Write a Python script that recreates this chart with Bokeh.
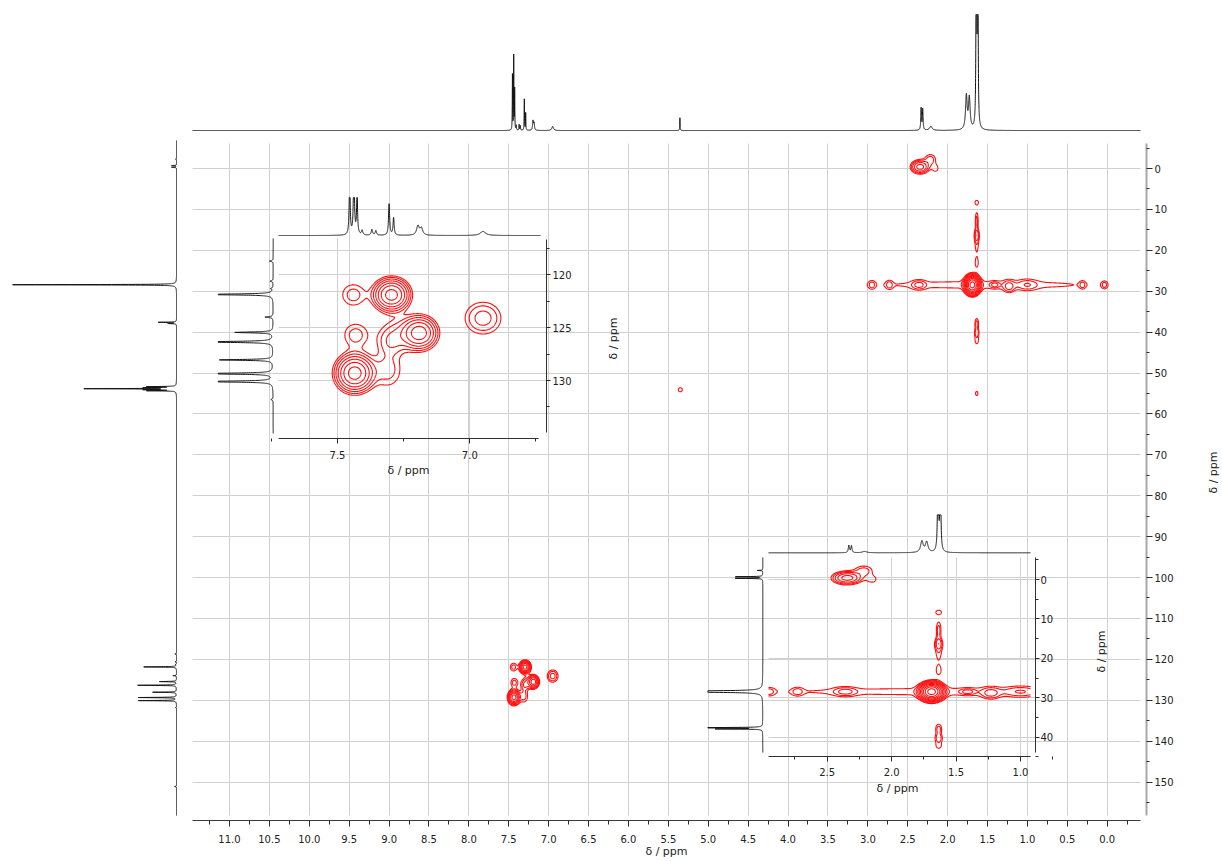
import numpy as np
from math import pi
from bokeh.plotting import figure
from bokeh.models import Range1d, LinearAxis, FixedTicker, PrintfTickFormatter, Grid, Label
from bokeh.embed import file_html
from bokeh.resources import INLINE

# ------------------------------------------------------------------ data
# 1H projection: peak position (ppm), height (% of full scale), half width (ppm)
h1_ppm = [7.454, 7.438, 7.426, 7.407, 7.370, 7.355, 7.305, 7.288, 7.196, 7.183, 6.950,
          5.355, 2.332, 2.312, 2.210, 1.765, 1.728, 1.640, 1.622]
h1_height = [48, 64, 35, 4, 5, 4, 27, 15, 8, 6, 3.5,
             11, 19, 18, 3.5, 29, 27, 260, 240]
h1_hwhm = [0.0022, 0.0022, 0.0022, 0.003, 0.003, 0.003, 0.0025, 0.0025, 0.006, 0.006, 0.012,
           0.0025, 0.005, 0.005, 0.02, 0.012, 0.012, 0.004, 0.004]

# 13C projection: peak position (ppm), height (% of full scale)
c13_ppm = [-2.3, -0.7, -0.3, 28.42, 37.6, 37.9, 53.34, 53.59, 53.84, 54.09, 54.34,
           118.7, 120.6, 121.3, 121.86, 124.0, 125.45, 126.35, 128.05, 129.35, 130.1, 131.8, 151.1]
c13_height = [0.6, 3.0, 3.0, 100, 11, 5, 17, 17.5, 54.5, 17.5, 17,
              1.0, 0.8, 0.6, 20, 2.2, 10.3, 23.6, 14.5, 23, 23, 0.6, 1.2]

# HSQC cross peaks: 1H ppm, 13C ppm, outer contour width (1H ppm), height (13C ppm), contour rings
hsqc_h = [7.435, 7.296, 7.189, 6.950, 7.440, 7.432, 7.300, 7.265, 7.310,
          2.345, 2.216, 2.150, 1.635, 1.635, 1.635, 1.635, 1.635,
          1.690, 1.540, 2.360, 1.410, 1.230, 1.000, 2.950, 2.730,
          1.635, 1.635, 1.635, 1.635, 5.350, 0.310, 0.035]
hsqc_c = [129.3, 121.9, 125.5, 124.1, 121.9, 125.7, 126.4, 125.6, 129.0,
          -0.4, -2.3, 0.0, 8.3, 12.8, 16.3, 18.8, 23.1,
          28.45, 28.45, 28.45, 28.45, 28.9, 28.45, 28.45, 28.45,
          37.9, 40.2, 42.2, 55.0, 54.1, 28.45, 28.45]
hsqc_wh = [0.17, 0.16, 0.15, 0.135, 0.08, 0.08, 0.04, 0.12, 0.09,
           0.25, 0.12, 0.05, 0.04, 0.035, 0.06, 0.03, 0.035,
           0.24, 2.24, 0.12, 0.08, 0.10, 0.10, 0.035, 0.035,
           0.045, 0.05, 0.035, 0.03, 0.05, 0.03, 0.03]
hsqc_wc = [4.2, 3.6, 3.5, 3.0, 1.9, 2.0, 1.0, 2.4, 2.8,
           3.6, 2.2, 1.2, 0.9, 4.0, 3.0, 2.0, 2.0,
           6.0, 1.6, 1.6, 1.0, 2.2, 1.2, 0.9, 0.9,
           2.4, 1.8, 1.2, 1.0, 1.0, 0.8, 0.8]
hsqc_rings = [7, 7, 6, 3, 2, 2, 1, 2, 2,
              5, 2, 1, 1, 2, 3, 1, 1,
              10, 1, 2, 2, 2, 1, 1, 1,
              2, 2, 1, 1, 1, 1, 1]

main_h_ticks = [11.0, 10.5, 10.0, 9.5, 9.0, 8.5, 8.0, 7.5, 7.0, 6.5, 6.0, 5.5,
                5.0, 4.5, 4.0, 3.5, 3.0, 2.5, 2.0, 1.5, 1.0, 0.5, 0.0]
main_c_ticks = [0, 10, 20, 30, 40, 50, 60, 70, 80, 90, 100, 110, 120, 130, 140, 150]
in1_h_ticks = [7.5, 7.0]
in1_c_ticks = [120, 125, 130]
in2_h_ticks = [2.5, 2.0, 1.5, 1.0]
in2_c_ticks = [0, 10, 20, 30, 40]
axis_title = "δ / ppm"

# ------------------------------------------------------------------ layout helpers
W, H = 1222, 861
X0, Y0 = 0.0, 0.0
X1, Y1 = X0 + W, Y0 + H
RED = "#ff0f0f"
INK = "#141414"
GRID = "#d0d0d0"
FONT = "DejaVu Sans"
C13_HWHM = 0.05
RATIO = 1.5
LEVELS = [RATIO ** k for k in range(18)]


def lin(va, pa, vb, pb):
    s = (vb - va) / (pb - pa)
    return lambda px: va + (px - pa) * s


def xr(f):
    return Range1d(start=f(X0), end=f(X1))


def yr(f):
    return Range1d(start=f(Y1), end=f(Y0))


mh = lin(11.0, 229.0, 0.0, 1106.7)      # main 1H axis
mc = lin(0.0, 168.0, 150.0, 781.5)      # main 13C axis
mt = lin(0.0, 130.0, 100.0, 14.0)       # main 1H projection intensity
ml = lin(0.0, 176.0, 100.0, 11.0)       # main 13C projection intensity
ah = lin(7.5, 337.0, 7.0, 469.3)        # inset 1
ac = lin(120.0, 274.3, 130.0, 380.0)
at = lin(0.0, 235.0, 100.0, 119.0)
al = lin(0.0, 272.7, 100.0, 272.7 - 370.0)
bh = lin(2.5, 826.7, 1.0, 1020.0)       # inset 2
bc = lin(0.0, 579.0, 40.0, 736.7)
bt = lin(0.0, 552.3, 100.0, 552.3 - 38.67)
bl = lin(0.0, 762.3, 100.0, 762.3 - 910.0)

p = figure(width=W, height=H, x_range=xr(mh), y_range=yr(mc),
           x_axis_type=None, y_axis_type=None, toolbar_location=None,
           output_backend="svg", min_border=0, outline_line_color=None,
           background_fill_color="white", border_fill_color="white")
p.extra_x_ranges = {"ml": xr(ml), "ah": xr(ah), "al": xr(al), "bh": xr(bh), "bl": xr(bl)}
p.extra_y_ranges = {"mt": yr(mt), "ac": yr(ac), "at": yr(at), "bc": yr(bc), "bt": yr(bt)}


def minors(ticks):
    t = sorted(ticks)
    step = t[1] - t[0]
    return [t[0] - step / 2] + [(a + b) / 2 for a, b in zip(t[:-1], t[1:])] + [t[-1] + step / 2]


def add_grid(dim, ticks, xname, yname, lo, hi):
    lo, hi = min(lo, hi), max(lo, hi)
    try:
        g = Grid(dimension=dim, ticker=FixedTicker(ticks=list(ticks)),
                 x_range_name=xname, y_range_name=yname, cross_bounds=(lo, hi),
                 grid_line_color=GRID, grid_line_width=1)
        p.add_layout(g)
    except Exception:
        t = np.asarray(ticks, dtype=float)
        if dim == 0:
            p.segment(x0=t, x1=t, y0=lo, y1=hi, x_range_name=xname, y_range_name=yname,
                      line_color=GRID, line_width=1, level="underlay")
        else:
            p.segment(x0=lo, x1=hi, y0=t, y1=t, x_range_name=xname, y_range_name=yname,
                      line_color=GRID, line_width=1, level="underlay")


def add_axis(side, xname, yname, loc, lo, hi, ticks, fmt, line_color, line_width,
             tick_out, minor_out, standoff):
    ax = LinearAxis(x_range_name=xname, y_range_name=yname, fixed_location=loc,
                    bounds=(min(lo, hi), max(lo, hi)),
                    ticker=FixedTicker(ticks=list(ticks), minor_ticks=minors(ticks)),
                    formatter=PrintfTickFormatter(format=fmt),
                    axis_line_color=line_color, axis_line_width=line_width,
                    major_tick_line_color="#2b2b2b", minor_tick_line_color="#2b2b2b",
                    major_tick_in=0, major_tick_out=tick_out,
                    minor_tick_in=0, minor_tick_out=minor_out,
                    major_label_standoff=standoff, major_label_text_font=FONT,
                    major_label_text_font_size="10px", major_label_text_color="#222222")
    p.add_layout(ax, side)


def lorentz(x, pos, hgt, hw):
    y = np.zeros_like(x)
    for p0, h0, w0 in zip(pos, hgt, hw):
        y += h0 * w0 ** 2 / ((x - p0) ** 2 + w0 ** 2)
    return y


def hsqc_field(hh, cc):
    z = np.zeros((cc.size, hh.size))
    for h0, c0, wh, wc, n in zip(hsqc_h, hsqc_c, hsqc_wh, hsqc_wc, hsqc_rings):
        a = RATIO ** (n - 0.5)
        k = np.sqrt(2.0 * np.log(a))
        sh, sc = 0.5 * wh / k, 0.5 * wc / k
        z += a * np.outer(np.exp(-0.5 * ((cc - c0) / sc) ** 2),
                          np.exp(-0.5 * ((hh - h0) / sh) ** 2))
    return z


def contours(hh, cc, xname, yname):
    z = hsqc_field(hh, cc)
    r = p.contour(hh, cc, z, LEVELS, line_color=RED, line_width=1.1)
    for rr in (r, r.line_renderer, r.fill_renderer):
        rr.x_range_name = xname
        rr.y_range_name = yname


c13_hw = np.full(len(c13_ppm), C13_HWHM)

# ------------------------------------------------------------------ grids
add_grid(0, main_h_ticks, "default", "default", mc(143), mc(815))
add_grid(1, main_c_ticks, "default", "default", mh(192), mh(1140))
add_grid(0, in1_h_ticks, "ah", "ac", ac(238), ac(438))
add_grid(1, in1_c_ticks, "ah", "ac", ah(278), ah(546))
add_grid(0, in2_h_ticks, "bh", "bc", bc(557), bc(756))
add_grid(1, in2_c_ticks, "bh", "bc", bh(768), bh(1035))

# ------------------------------------------------------------------ main spectrum
hx = np.linspace(mh(192), mh(1140), 24000)
p.line(hx, np.minimum(lorentz(hx, h1_ppm, h1_height, h1_hwhm), mt(14)),
       y_range_name="mt", line_color=INK, line_width=1)
cy = np.linspace(mc(140), mc(815), 20000)
p.line(np.minimum(lorentz(cy, c13_ppm, c13_height, c13_hw), ml(11)), cy,
       x_range_name="ml", line_color=INK, line_width=1)
contours(np.linspace(mh(1140), mh(192), 1900), np.linspace(mc(143), mc(815), 1350),
         "default", "default")

# ------------------------------------------------------------------ inset 1 (aromatic)
hx = np.linspace(ah(278), ah(540), 4000)
p.line(hx, np.minimum(lorentz(hx, h1_ppm, h1_height, h1_hwhm), at(197)),
       x_range_name="ah", y_range_name="at", line_color=INK, line_width=1)
cy = np.linspace(ac(238), ac(433), 4000)
p.line(np.minimum(lorentz(cy, c13_ppm, c13_height, c13_hw), al(217.7)), cy,
       x_range_name="al", y_range_name="ac", line_color=INK, line_width=1)
contours(np.linspace(ah(538), ah(278), 560), np.linspace(ac(239), ac(432), 420), "ah", "ac")

# ------------------------------------------------------------------ inset 2 (aliphatic)
hx = np.linspace(bh(768), bh(1030), 4000)
p.line(hx, np.minimum(lorentz(hx, h1_ppm, h1_height, h1_hwhm), bt(514.3)),
       x_range_name="bh", y_range_name="bt", line_color=INK, line_width=1)
cy = np.linspace(bc(557), bc(752), 4000)
p.line(np.minimum(lorentz(cy, c13_ppm, c13_height, c13_hw), bl(707.3)), cy,
       x_range_name="bl", y_range_name="bc", line_color=INK, line_width=1)
contours(np.linspace(bh(1030), bh(768), 560), np.linspace(bc(557), bc(752), 420), "bh", "bc")

# ------------------------------------------------------------------ axes
add_axis("below", "default", "default", mc(820), mh(192), mh(1140), main_h_ticks, "%.1f",
         "#3a3a3a", 1, 6, 4, 8)
add_axis("right", "default", "default", mh(1146), mc(143), mc(815), main_c_ticks, "%d",
         "#a8a8a8", 2, 6, 3, 2)
add_axis("below", "ah", "ac", ac(438.3), ah(278), ah(538), in1_h_ticks, "%.1f",
         "#303030", 1, 5, 3, 7)
add_axis("right", "ah", "ac", ah(546), ac(239), ac(432), in1_c_ticks, "%d",
         "#303030", 1, 4, 3, 2)
add_axis("below", "bh", "bc", bc(756), bh(768), bh(1030), in2_h_ticks, "%.1f",
         "#303030", 1, 5, 3, 6)
add_axis("right", "bh", "bc", bh(1035), bc(557), bc(752), in2_c_ticks, "%d",
         "#303030", 1, 4, 3, 1)

# ------------------------------------------------------------------ axis titles
for px, py, rot in [(666, 851, False), (1213, 472, True), (408, 470, False),
                    (613, 338, True), (897, 788, False), (1101, 651, True)]:
    p.add_layout(Label(x=mh(px), y=mc(py), text=axis_title, text_align="center",
                       text_baseline="middle", angle=pi / 2 if rot else 0.0,
                       text_font=FONT, text_font_size="11px", text_color="#222222"))

open("out.html", "w").write(file_html(p, INLINE))
